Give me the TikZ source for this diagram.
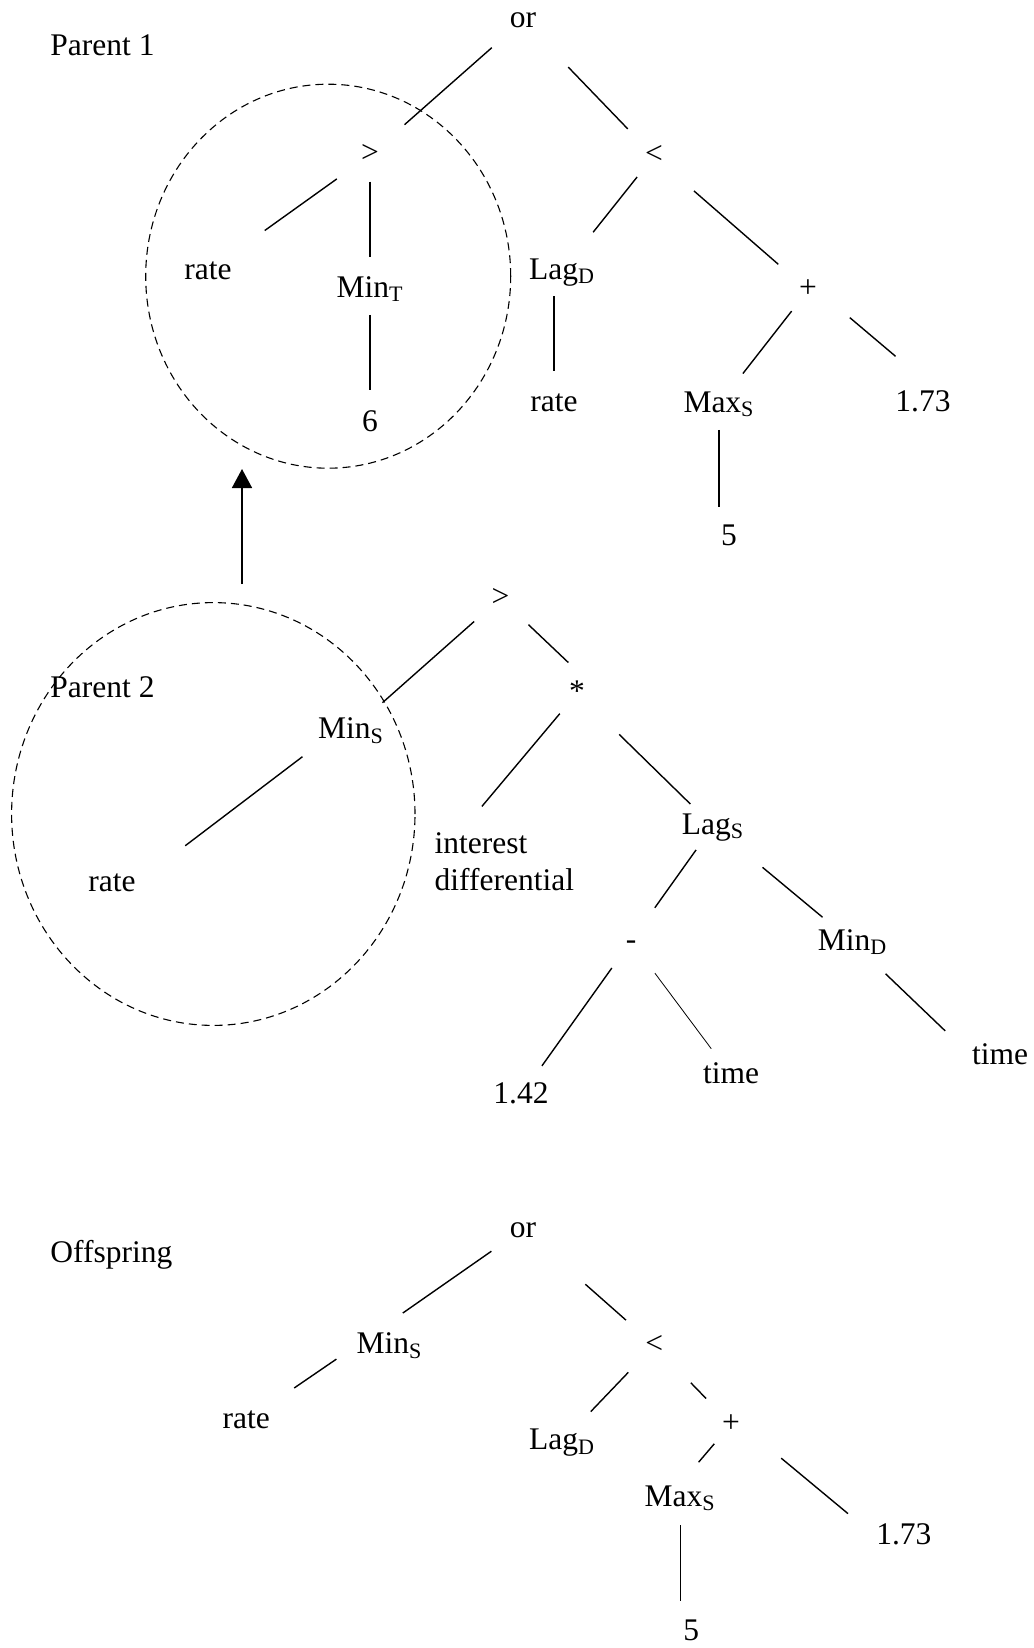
\documentclass[tikz,border=0pt]{standalone}
\usepackage{fontspec}
\setmainfont{Liberation Serif}
\usetikzlibrary{arrows.meta}

\begin{document}
\begin{tikzpicture}[x=0.5pt, y=-0.5pt,
  lab/.style={font=\fontsize{15.75}{18.4}\selectfont, inner sep=0pt, text height=11pt, text depth=3.15pt, anchor=base},
  title/.style={font=\fontsize{15.75}{18.4}\selectfont, inner sep=0pt, anchor=base west},
  branch/.style 2 args={line width=0.7pt, shorten <=#1, shorten >=#2},
  crossover/.style={line width=0.55pt, dash pattern=on 4pt off 2.5pt}]

\useasboundingbox (0,0) rectangle (1033,1648);

% Parent 1
\node[title] (p1) at (50,56) {Parent 1};
\node[lab] (or1) at (523,28) {or};
\node[lab] (gt1) at (370,163) {>};
\node[lab] (lt1) at (654,164) {<};
\node[lab] (rateA) at (208,279) {rate};
\node[lab] (minT) at (370,297) {Min\textsubscript{T}};
\node[lab] (six) at (370,431) {6};
\node[lab] (lagD1) at (562,279) {Lag\textsubscript{D}};
\node[lab] (rateB) at (554,411) {rate};
\node[lab] (plus1) at (808,298) {+};
\node[lab] (maxS1) at (719,412) {Max\textsubscript{S}};
\node[lab] (n173a) at (923,411) {1.73};
\node[lab] (five1) at (729,545) {5};

\draw[branch={20.8pt}{23pt}] (or1.center) -- (gt1.center);
\draw[branch={32.6pt}{18.9pt}] (or1.center) -- (lt1.center);
\draw[branch={20.4pt}{34.9pt}] (gt1.center) -- (rateA.center);
\draw[branch={13.3pt}{16.2pt}] (gt1.center) -- (minT.center);
\draw[branch={12.9pt}{16.4pt}] (minT.center) -- (six.center);
\draw[branch={13.4pt}{24.9pt}] (lt1.center) -- (lagD1.center);
\draw[branch={26.5pt}{19.7pt}] (lt1.center) -- (plus1.center);
\draw[branch={12.6pt}{16pt}] (lagD1 -| rateB) -- (rateB.center);
\draw[branch={13.3pt}{19.4pt}] (plus1.center) -- (maxS1.center);
\draw[branch={21.3pt}{36.3pt}] (plus1.east) -- (n173a.east);
\draw[branch={12.8pt}{15.2pt}] (maxS1.center) -- (maxS1 |- five1);

% subtree picked from parent 1
\draw[crossover] (328.2,276.2) ellipse [x radius=91.25pt, y radius=96pt];

% Parent 2
\node[title] (p2) at (50,697.3) {Parent 2};
\node[lab] (gt2) at (500.5,606) {>};
\node[lab] (star) at (577,701) {*};
\node[lab] (minS2) at (351,738.4) {Min\textsubscript{S}};
\node[lab] (rateC) at (112,891) {rate};
\node[title, align=left] (interest) at (434.3,890.2) {interest\\differential};
\node[lab] (lagS) at (713,834) {Lag\textsubscript{S}};
\node[lab] (minus) at (631,949) {-};
\node[lab] (minD) at (852.5,950) {Min\textsubscript{D}};
\node[lab] (n142) at (521,1103) {1.42};
\node[lab] (timeA) at (731,1083) {time};
\node[lab] (timeB) at (1000,1064) {time};

\draw[branch={17.6pt}{21pt}] (gt2.center) -- (minS2.center);
\draw[branch={19.3pt}{11.7pt}] (gt2.center) -- (star.north east);
\draw[branch={9.6pt}{30.9pt}] (minS2.south west) -- (rateC.east);
\draw[branch={13.4pt}{16.8pt}] (star.center) -- ([xshift=13pt]interest.north west);
\draw[branch={29.5pt}{15.8pt}] (star.center) -- (lagS.center);
\draw[branch={14.6pt}{20.5pt}] (lagS.center) -- (minus.center);
\draw[branch={32.2pt}{19.5pt}] (lagS.center) -- (minD.center);
\draw[branch={16.5pt}{18pt}] (minus.center) -- (n142.center);
\draw[branch={20pt}{16.5pt}, line width=0.4pt] (minus.center) -- (timeA.center);
\draw[branch={22.9pt}{18.3pt}] (minD.center) -- (timeB.west);

% subtree picked from parent 2
\draw[crossover] (213.3,814) ellipse [x radius=100.85pt, y radius=105.7pt];

% swap arrow
\coordinate (swapfrom) at (242,584);
\coordinate (swapto) at (242,469);
\draw[line width=0.8pt, -{Triangle[length=9.5pt,width=10pt]}] (swapfrom) -- (swapto);

% Offspring
\node[title] (off) at (50,1262.5) {Offspring};
\node[lab] (or3) at (523,1237) {or};
\node[lab] (minS3) at (389.5,1353.4) {Min\textsubscript{S}};
\node[lab] (lt3) at (654.3,1353) {<};
\node[lab] (rateD) at (246.3,1428.6) {rate};
\node[lab] (lagD3) at (562,1449.5) {Lag\textsubscript{D}};
\node[lab] (plus3) at (731,1432) {+};
\node[lab] (maxS3) at (680.2,1506.2) {Max\textsubscript{S}};
\node[lab] (n173b) at (903.8,1544.6) {1.73};
\node[lab] (five3) at (691.3,1640) {5};

\draw[branch={19.3pt}{28.4pt}] (or3.center) -- (minS3.west);
\draw[branch={41.6pt}{18.9pt}] (or3.center) -- (lt3.center);
\draw[branch={12pt}{29pt}] (minS3.west) -- (rateD.center);
\draw[branch={18.8pt}{20.8pt}] (lt3.center) -- (lagD3.center);
\draw[branch={26.2pt}{17.9pt}] (lt3.center) -- (plus3.center);
\draw[branch={12.9pt}{14.2pt}] (plus3.center) -- (maxS3.north);
\draw[branch={26.6pt}{18.1pt}] (plus3.east) -- (n173b.west);
\draw[branch={13.5pt}{15.8pt}] (maxS3.center) -- (maxS3 |- five3);

\end{tikzpicture}
\end{document}
